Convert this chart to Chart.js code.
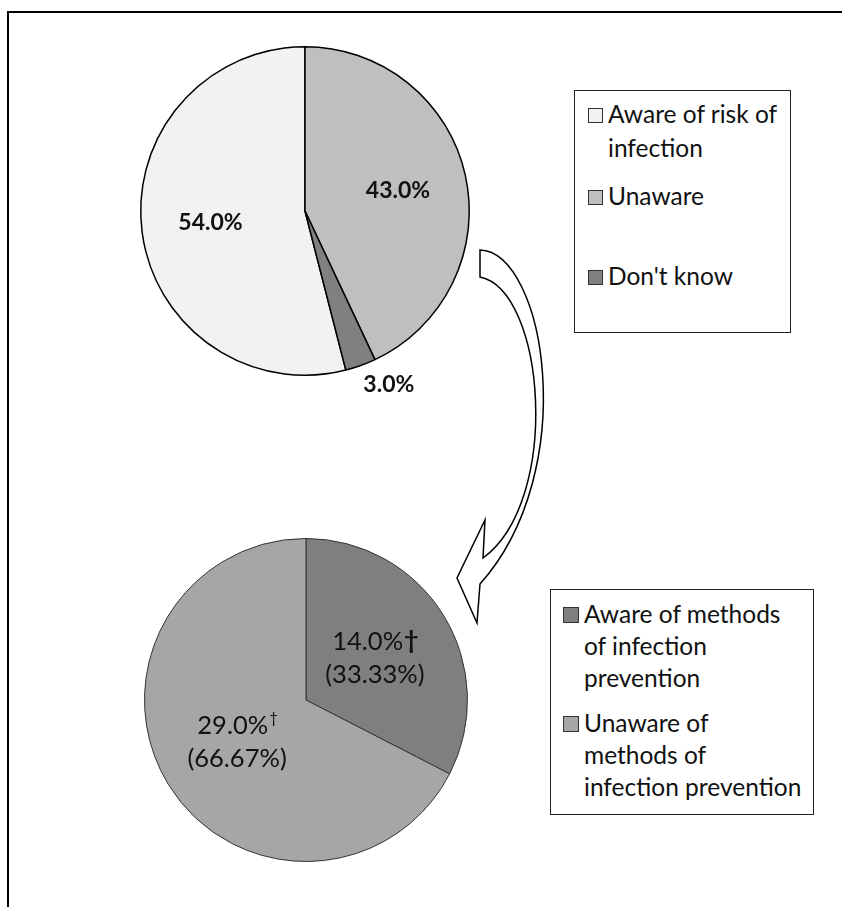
<!DOCTYPE html>
<html>
<head>
<meta charset="utf-8">
<script src="https://cdn.jsdelivr.net/npm/chart.js@4.4.1/dist/chart.umd.min.js"></script>
<style>
  body{margin:0;background:#fff;}
  #page{position:relative;width:842px;height:907px;overflow:hidden;background:#fff;font-family:Lato, "Open Sans", sans-serif;}
  #frame{position:absolute;left:7px;top:11px;width:850px;height:910px;border-left:2px solid #000;border-top:2px solid #000;}
  canvas{position:absolute;left:0;top:0;}
  .legend{position:absolute;border:1.5px solid #222;background:#fff;box-sizing:border-box;}
  .legend .item{position:absolute;display:flex;align-items:flex-start;color:#111;white-space:nowrap;}
  .legend .box{flex:none;border:1px solid #333;box-sizing:border-box;}
</style>
</head>
<body>
<div id="page">
  <div id="frame"></div>
  <canvas id="topPie" width="842" height="907"></canvas>
  <canvas id="bottomPie" width="842" height="907"></canvas>
  <div id="topLegend" class="legend" style="left:574px;top:90px;width:217px;height:243px;"></div>
  <div id="bottomLegend" class="legend" style="left:550px;top:589px;width:264px;height:226px;"></div>
</div>
<script>
// pie 1 : awareness of risk
var riskLabels = [['Aware of risk of','infection'], ['Unaware'], ["Don't know"]];
var riskValues = [54, 43, 3];
var riskText = ['54.0%', '43.0%', '3.0%'];
var riskColors = ['#f2f2f2', '#bfbfbf', '#808080'];

// pie 2 : among the aware ones
var methodLabels = [['Aware of methods','of infection','prevention'], ['Unaware of','methods of','infection prevention']];
var methodValues = [14, 29];
var methodText = ['14.0%', '29.0%'];
var methodShare = ['(33.33%)', '(66.67%)'];
var methodColors = ['#7f7f7f', '#a6a6a6'];

// labels on the slices
var sliceLabels = {
  id: 'sliceLabels',
  afterDatasetsDraw: function(chart, args, opts){
    var ctx = chart.ctx;
    var arcs = chart.getDatasetMeta(0).data;
    ctx.save();
    ctx.fillStyle = '#111';
    arcs.forEach(function(arc, i){
      var p = arc.getProps(['x','y','startAngle','endAngle','outerRadius']);
      var mid = (p.startAngle + p.endAngle) / 2;
      var cs = Math.cos(mid), sn = Math.sin(mid);
      if (opts.outside && opts.outside[i]) {
        var r = p.outerRadius + 8;
        ctx.font = opts.font;
        ctx.textAlign = cs >= 0 ? 'left' : 'right';
        ctx.textBaseline = sn >= 0 ? 'top' : 'bottom';
        ctx.fillText(opts.lines[i][0], p.x + cs * r, p.y + sn * r);
        return;
      }
      var rr = p.outerRadius * opts.pos;
      var x = p.x + cs * rr, y = p.y + sn * rr;
      var lines = opts.lines[i];
      var lh = opts.lineHeight;
      ctx.textBaseline = 'middle';
      lines.forEach(function(t, k){
        var ly = y + (k - (lines.length - 1) / 2) * lh;
        ctx.font = opts.font;
        if (k === 0 && opts.dagger) {
          var w = ctx.measureText(t).width;
          var small = opts.dagger[i] === 'sup';
          ctx.font = small ? '15px Lato' : 'bold 25px Lato';
          var dw = ctx.measureText('†').width;
          var left = x - (w + dw) / 2;
          ctx.textAlign = 'left';
          ctx.font = opts.font;
          ctx.fillText(t, left, ly);
          ctx.font = small ? '15px Lato' : 'bold 25px Lato';
          ctx.fillText('†', left + w + 1, small ? ly - 7 : ly);
        } else {
          ctx.textAlign = 'center';
          ctx.fillText(t, x, ly);
        }
      });
    });
    ctx.restore();
  }
};

// curved block arrow between the two pies
var arrowPlugin = {
  id: 'arrowShape',
  afterDraw: function(chart){
    var ctx = chart.ctx;
    ctx.save();
    ctx.beginPath();
    ctx.moveTo(480, 250);
    ctx.bezierCurveTo(545, 252, 582, 470, 480, 584);
    ctx.lineTo(477, 623);
    ctx.lineTo(457, 578);
    ctx.lineTo(485, 520);
    ctx.lineTo(483, 558);
    ctx.bezierCurveTo(562, 500, 545, 290, 480, 277);
    ctx.closePath();
    ctx.fillStyle = '#fff';
    ctx.fill();
    ctx.lineWidth = 1.5;
    ctx.strokeStyle = '#000';
    ctx.stroke();
    ctx.restore();
  }
};

var topChart = new Chart(document.getElementById('topPie'), {
  type: 'pie',
  data: {
    labels: riskLabels,
    datasets: [{
      data: riskValues,
      backgroundColor: riskColors,
      borderColor: '#000',
      borderWidth: 1.5
    }]
  },
  options: {
    responsive: false,
    animation: false,
    rotation: 360 * (riskValues[1] + riskValues[2]) / 100,
    layout: { padding: { left: 140, top: 46, right: 372, bottom: 531 } },
    plugins: {
      legend: { display: false },
      tooltip: { enabled: false },
      sliceLabels: {
        lines: riskText.map(function(t){ return [t]; }),
        outside: [false, false, true],
        pos: 0.58,
        lineHeight: 30,
        font: 'bold 23px Lato'
      }
    }
  },
  plugins: [sliceLabels]
});

var bottomChart = new Chart(document.getElementById('bottomPie'), {
  type: 'pie',
  data: {
    labels: methodLabels,
    datasets: [{
      data: methodValues,
      backgroundColor: methodColors,
      borderColor: '#333',
      borderWidth: 1
    }]
  },
  options: {
    responsive: false,
    animation: false,
    layout: { padding: { left: 144, top: 538, right: 374, bottom: 45 } },
    plugins: {
      legend: { display: false },
      tooltip: { enabled: false },
      sliceLabels: {
        lines: methodText.map(function(t, i){ return [t, methodShare[i]]; }),
        dagger: ['full', 'sup'],
        pos: 0.5,
        lineHeight: 33,
        font: '25.5px Lato'
      }
    }
  },
  plugins: [sliceLabels, arrowPlugin]
});

// html legends built from the chart data
function buildLegend(chart, el, tops, opt){
  var ds = chart.data.datasets[0];
  chart.data.labels.forEach(function(lbl, i){
    var item = document.createElement('div');
    item.className = 'item';
    item.style.left = opt.left + 'px';
    item.style.top = tops[i] + 'px';
    item.style.fontSize = opt.fontSize + 'px';
    item.style.lineHeight = opt.lineHeight + 'px';
    var box = document.createElement('div');
    box.className = 'box';
    box.style.width = opt.box + 'px';
    box.style.height = opt.box + 'px';
    box.style.marginTop = ((opt.lineHeight - opt.box) / 2 + 1) + 'px';
    box.style.marginRight = opt.gap + 'px';
    box.style.background = ds.backgroundColor[i];
    var txt = document.createElement('div');
    txt.innerHTML = lbl.join('<br>');
    item.appendChild(box);
    item.appendChild(txt);
    el.appendChild(item);
  });
}
buildLegend(topChart, document.getElementById('topLegend'), [6, 88, 168],
  { left: 13, fontSize: 24.5, lineHeight: 34, box: 15, gap: 5 });
buildLegend(bottomChart, document.getElementById('bottomLegend'), [8, 117],
  { left: 12, fontSize: 24.5, lineHeight: 32, box: 16, gap: 5 });
</script>
</body>
</html>
